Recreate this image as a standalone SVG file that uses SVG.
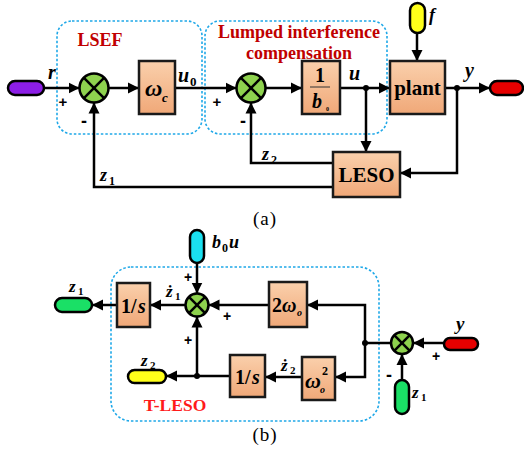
<svg xmlns="http://www.w3.org/2000/svg" width="524" height="450" viewBox="0 0 524 450">
<defs>
<linearGradient id="blk" x1="0" y1="0" x2="0" y2="1">
<stop offset="0" stop-color="#fad0ac"/>
<stop offset="1" stop-color="#f0a878"/>
</linearGradient>
<marker id="ar" markerUnits="userSpaceOnUse" markerWidth="12" markerHeight="12" refX="11" refY="6" orient="auto">
<path d="M0,0.5 L11,6 L0,11.5 z" fill="#000"/>
</marker>
</defs>
<style>
.ln{fill:none;stroke:#000;stroke-width:2.5}
.blk{fill:url(#blk);stroke:#1a1a1a;stroke-width:2.5}
.sum{fill:#8ed24e;stroke:#000;stroke-width:2.5}
.x{stroke:#000;stroke-width:2.5}
.pill{stroke:#000;stroke-width:2.5}
.dash{fill:none;stroke:#1fa8e8;stroke-width:1.6;stroke-dasharray:2.5,2}
.t{font-family:"Liberation Serif",serif;font-weight:bold;fill:#000}
.i{font-family:"Liberation Serif",serif;font-weight:bold;font-style:italic;fill:#000}
.s{font-family:"Liberation Serif",serif;font-weight:bold;fill:#000}
.sg{font-family:"Liberation Sans",sans-serif;font-weight:bold;fill:#000}
.red{font-family:"Liberation Serif",serif;font-weight:bold;fill:#c00000;font-size:18px}
.cap{font-family:"Liberation Serif",serif;font-size:19px;fill:#000;letter-spacing:1px}
</style>

<!-- (a) groups -->
<g id="lsef-box"><rect class="dash" x="57" y="21" width="145" height="113" rx="15"/><text class="red" x="100" y="46" text-anchor="middle">LSEF</text></g>
<g id="lic-box"><rect class="dash" x="205" y="21" width="182" height="113" rx="15"/><text class="red" x="299" y="38" text-anchor="middle">Lumped interference</text><text class="red" x="299" y="59" text-anchor="middle">compensation</text></g>

<g id="connectors-a">
<line class="ln" x1="44" y1="88" x2="79.5" y2="88" marker-end="url(#ar)"/>
<line class="ln" x1="108.5" y1="88" x2="139" y2="88" marker-end="url(#ar)"/>
<line class="ln" x1="175" y1="88" x2="236.5" y2="88" marker-end="url(#ar)"/>
<line class="ln" x1="265.5" y1="88" x2="302" y2="88" marker-end="url(#ar)"/>
<line class="ln" x1="340" y1="88" x2="390" y2="88" marker-end="url(#ar)"/>
<line class="ln" x1="417" y1="33" x2="417" y2="61" marker-end="url(#ar)"/>
<line class="ln" x1="445" y1="88" x2="490" y2="88" marker-end="url(#ar)"/>
<polyline class="ln" points="457,88 457,173 400,173" marker-end="url(#ar)"/>
<line class="ln" x1="366" y1="88" x2="366" y2="152" marker-end="url(#ar)"/>
<polyline class="ln" points="333,163 251,163 251,102.5" marker-end="url(#ar)"/>
<polyline class="ln" points="333,187 94,187 94,102.5" marker-end="url(#ar)"/>
<circle cx="366" cy="88" r="3" fill="#000"/>
<circle cx="457" cy="88" r="3" fill="#000"/>
</g>

<g id="in-r"><rect class="pill" x="8" y="81" width="36" height="14" rx="7" fill="#8c1ee6"/><text class="i" x="48" y="79" font-size="20">r</text></g>
<g id="sum1"><circle class="sum" cx="94" cy="88" r="14.5"/><line class="x" x1="83.7" y1="77.7" x2="104.3" y2="98.3"/><line class="x" x1="104.3" y1="77.7" x2="83.7" y2="98.3"/><text class="sg" x="63" y="107" font-size="15" text-anchor="middle">+</text><text class="sg" x="84" y="127" font-size="18" text-anchor="middle">-</text></g>
<g id="wc"><rect class="blk" x="139" y="61" width="36" height="53"/><text class="i" x="145" y="96" font-size="24">ω</text><text class="i" x="162" y="102" font-size="13">c</text></g>
<g id="u0"><text class="i" x="178" y="82" font-size="20">u</text><text class="s" x="190" y="86" font-size="13">0</text></g>
<g id="sum2"><circle class="sum" cx="251" cy="88" r="14.5"/><line class="x" x1="240.7" y1="77.7" x2="261.3" y2="98.3"/><line class="x" x1="261.3" y1="77.7" x2="240.7" y2="98.3"/><text class="sg" x="217" y="107" font-size="15" text-anchor="middle">+</text><text class="sg" x="243" y="127" font-size="18" text-anchor="middle">-</text></g>
<g id="inv-b0"><rect class="blk" x="302" y="61" width="38" height="53"/><text class="t" x="320" y="82" font-size="20" text-anchor="middle">1</text><line x1="310" y1="87" x2="330" y2="87" stroke="#333" stroke-width="1"/><text class="i" x="317" y="108" font-size="20" text-anchor="middle">b</text><text class="s" x="326" y="111" font-size="6">0</text></g>
<g id="u-label"><text class="i" x="349" y="80" font-size="20">u</text></g>
<g id="plant"><rect class="blk" x="390" y="61" width="55" height="53"/><text class="t" x="417.5" y="95" font-size="21" text-anchor="middle">plant</text></g>
<g id="in-f"><rect class="pill" x="410" y="3" width="15" height="30" rx="7.5" fill="#ffff1a"/><text class="i" x="429" y="21" font-size="18">f</text></g>
<g id="out-y"><rect class="pill" x="490" y="81" width="33" height="14" rx="7" fill="#e60000"/><text class="i" x="465" y="77" font-size="20">y</text></g>
<g id="leso"><rect class="blk" x="333" y="152" width="67" height="45"/><text class="t" x="366.5" y="182" font-size="21" text-anchor="middle">LESO</text></g>
<g id="z-labels-a"><text class="i" x="262" y="160" font-size="18">z</text><text class="s" x="271" y="164" font-size="12">2</text><text class="i" x="100" y="181" font-size="18">z</text><text class="s" x="109" y="185" font-size="12">1</text></g>
<text class="cap" x="265" y="225" text-anchor="middle">(a)</text>

<!-- (b) -->
<g id="tleso-box"><rect class="dash" x="111" y="267" width="268" height="154" rx="20"/><text x="175" y="411" text-anchor="middle" font-family="Liberation Serif, serif" font-weight="bold" font-size="17.5" fill="#ff1a1a">T-LESO</text></g>

<g id="connectors-b">
<line class="ln" x1="197" y1="263" x2="197" y2="293.5" marker-end="url(#ar)"/>
<line class="ln" x1="185.5" y1="305" x2="150" y2="305" marker-end="url(#ar)"/>
<line class="ln" x1="117" y1="305" x2="92" y2="305" marker-end="url(#ar)"/>
<line class="ln" x1="197" y1="376" x2="197" y2="316.5" marker-end="url(#ar)"/>
<line class="ln" x1="230" y1="376" x2="166" y2="376" marker-end="url(#ar)"/>
<line class="ln" x1="269" y1="305" x2="208.5" y2="305" marker-end="url(#ar)"/>
<line class="ln" x1="302" y1="377" x2="265" y2="377" marker-end="url(#ar)"/>
<polyline class="ln" points="365,343 365,305 307,305" marker-end="url(#ar)"/>
<polyline class="ln" points="365,343 365,377 335,377" marker-end="url(#ar)"/>
<line class="ln" x1="365" y1="343" x2="391" y2="343"/>
<line class="ln" x1="444" y1="343" x2="413" y2="343" marker-end="url(#ar)"/>
<line class="ln" x1="402" y1="380" x2="402" y2="354" marker-end="url(#ar)"/>
<circle cx="197" cy="376" r="3" fill="#000"/>
<circle cx="365" cy="343" r="3" fill="#000"/>
</g>

<g id="in-b0u"><rect class="pill" x="190" y="230" width="14" height="33" rx="7" fill="#1ae0f0"/><text class="i" x="212" y="248" font-size="18">b</text><text class="s" x="222" y="252" font-size="12">0</text><text class="i" x="229" y="248" font-size="18">u</text></g>
<g id="sum3"><circle class="sum" cx="197" cy="305" r="11.5"/><line class="x" x1="188.9" y1="296.9" x2="205.1" y2="313.1"/><line class="x" x1="205.1" y1="296.9" x2="188.9" y2="313.1"/><text class="sg" x="188" y="282" font-size="14" text-anchor="middle">+</text><text class="sg" x="227" y="321" font-size="14" text-anchor="middle">+</text><text class="sg" x="188" y="345" font-size="14" text-anchor="middle">+</text></g>
<g id="int1"><rect class="blk" x="117" y="283" width="33" height="44"/><text class="t" x="121" y="313" font-size="20">1/</text><text class="i" x="138" y="313" font-size="20">s</text></g>
<g id="out-z1"><rect class="pill" x="55" y="298" width="37" height="14" rx="7" fill="#1ae066"/><text class="i" x="69" y="292" font-size="17">z</text><text class="s" x="78" y="295" font-size="11">1</text></g>
<g id="zdot1"><text class="i" x="166" y="297" font-size="17">ż</text><text class="s" x="175" y="300" font-size="11">1</text></g>
<g id="int2"><rect class="blk" x="230" y="355" width="35" height="42"/><text class="t" x="235" y="384" font-size="20">1/</text><text class="i" x="252" y="384" font-size="20">s</text></g>
<g id="out-z2"><rect class="pill" x="128" y="370" width="38" height="13" rx="6.5" fill="#ffff1a"/><text class="i" x="141" y="366" font-size="17">z</text><text class="s" x="150" y="369" font-size="11">2</text></g>
<g id="gain2wo"><rect class="blk" x="269" y="282" width="38" height="45"/><text class="t" x="272" y="312" font-size="20">2</text><text class="i" x="282" y="312" font-size="20">ω</text><text class="i" x="297" y="316" font-size="10">o</text></g>
<g id="gainwo2"><rect class="blk" x="302" y="357" width="33" height="43"/><text class="i" x="305" y="388" font-size="22">ω</text><text class="i" x="320" y="393" font-size="10">o</text><text class="s" x="322" y="375" font-size="12">2</text></g>
<g id="zdot2"><text class="i" x="281" y="371" font-size="17">ż</text><text class="s" x="290" y="374" font-size="11">2</text></g>
<g id="sum4"><circle class="sum" cx="402" cy="343" r="11"/><line class="x" x1="394.2" y1="335.2" x2="409.8" y2="350.8"/><line class="x" x1="409.8" y1="335.2" x2="394.2" y2="350.8"/><text class="sg" x="436" y="361" font-size="14" text-anchor="middle">+</text><text class="sg" x="389" y="381" font-size="18" text-anchor="middle">-</text></g>
<g id="in-y"><rect class="pill" x="444" y="338" width="34" height="12" rx="6" fill="#e60000"/><text class="i" x="456" y="330" font-size="19">y</text></g>
<g id="in-z1"><rect class="pill" x="395" y="380" width="14" height="34" rx="7" fill="#1ae066"/><text class="i" x="412" y="398" font-size="17">z</text><text class="s" x="421" y="401" font-size="11">1</text></g>
<text class="cap" x="265" y="441" text-anchor="middle">(b)</text>
</svg>
